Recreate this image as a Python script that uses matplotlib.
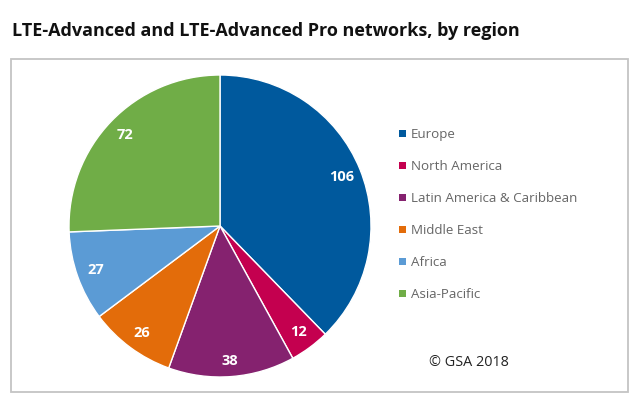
import matplotlib
matplotlib.use('Agg')
import matplotlib.pyplot as plt
from matplotlib.patches import Rectangle

regiones = ['Europe', 'North America', 'Latin America & Caribbean', 'Middle East', 'Africa', 'Asia-Pacific']
valores = [106, 12, 38, 26, 27, 72]
colores = ['#00599d', '#c4004f', '#85226f', '#e36c0a', '#5b9bd5', '#70ad47']

plt.rcParams['font.family'] = 'Open Sans'
W, H = 640, 404
fig = plt.figure(figsize=(W / 100, H / 100), dpi=100)

# eje de pixeles para marco y textos
fondo = fig.add_axes([0, 0, 1, 1])
fondo.set_xlim(0, W)
fondo.set_ylim(H, 0)
fondo.axis('off')
fondo.add_patch(Rectangle((11, 59), 617, 333, fc='white', ec='#c4c4c4', lw=1.3))
fondo.text(12, 36, 'LTE-Advanced and LTE-Advanced Pro networks, by region',
           fontsize=13, fontweight='bold', color='#111111', va='baseline')

# pie
cx, cy, r = 220, 226, 151
ax = fig.add_axes([(cx - r) / W, 1 - (cy + r) / H, 2 * r / W, 2 * r / H])
etiquetas = iter(valores)
_, _, autotextos = ax.pie(valores, colors=colores, startangle=90, counterclock=False, radius=1,
       autopct=lambda p: str(next(etiquetas)), pctdistance=0.87,
       textprops={'color': 'white', 'fontsize': 10.5, 'fontweight': 'bold'},
       wedgeprops={'edgecolor': 'white', 'linewidth': 1})
# el 38 y el 26 van un poco mas abajo
for i, dy in [(2, 0.03), (3, 0.01)]:
    px, py = autotextos[i].get_position()
    autotextos[i].set_position((px, py - dy))
ax.set_xlim(-1, 1)
ax.set_ylim(-1, 1)

# leyenda
y = 133
for reg, col in zip(regiones, colores):
    fondo.add_patch(Rectangle((399, y - 3.5), 7, 7, fc=col, ec='none'))
    fondo.text(411, y + 5, reg, fontsize=9.6, color='#666666', va='baseline')
    y += 32

fondo.text(429, 366, '© GSA 2018', fontsize=10.4, color='#222222', va='baseline')

plt.savefig('out.png', dpi=100)
